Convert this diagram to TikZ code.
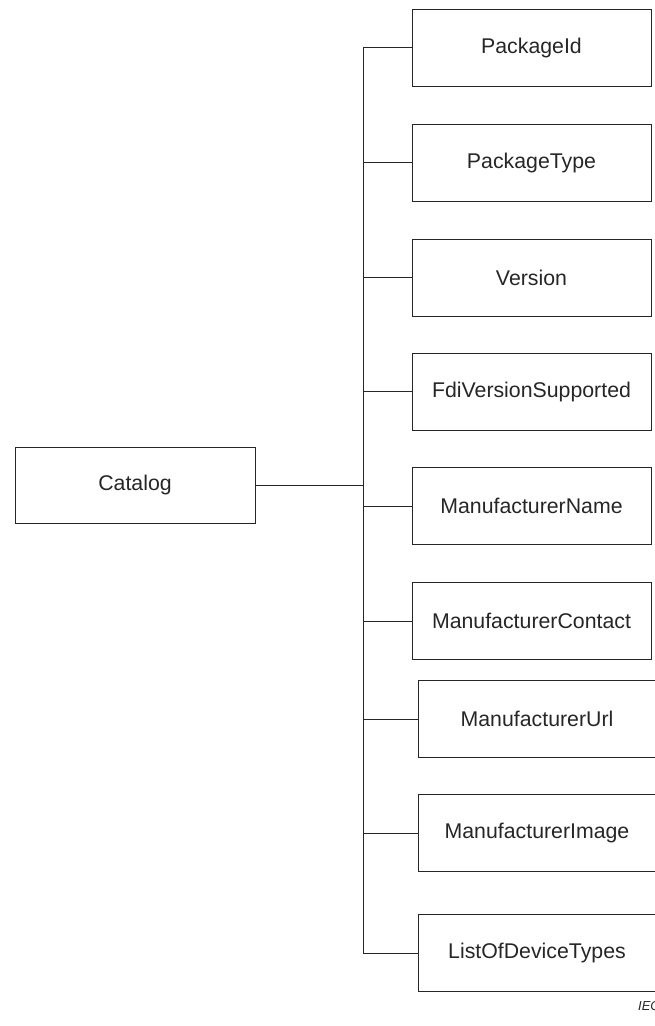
\documentclass[tikz,border=0pt]{standalone}
\usepackage{fontspec}
\setmainfont{Liberation Sans}
\begin{document}
\begin{tikzpicture}[x=1pt,y=-1pt,
  box/.style={draw=black!85, line width=0.8pt, rectangle, inner sep=0pt,
    minimum width=239pt, minimum height=77pt,
    font=\fontsize{21.3}{25}\selectfont, text=black!85},
  link/.style={draw=black!85, line width=0.8pt}]
\useasboundingbox (0,0) rectangle (654,1026);
% root
\node[box, minimum width=240pt, minimum height=76pt] (cat) at (135,485) {Catalog};
% children
\node[box] (pid)  at (531.5,47.5)  {PackageId};
\node[box] (ptyp) at (531.5,162.5) {PackageType};
\node[box] (ver)  at (531.5,277.5) {Version};
\node[box] (fdi)  at (531.5,391.5) {FdiVersionSupported};
\node[box] (mnam) at (531.5,506)   {ManufacturerName};
\node[box] (mcon) at (531.5,621)   {ManufacturerContact};
\node[box, minimum width=238pt] (murl) at (537,719)  {ManufacturerUrl};
\node[box, minimum width=238pt] (mimg) at (537,833)  {ManufacturerImage};
\node[box, minimum width=238pt] (ldt)  at (537,953)  {ListOfDeviceTypes};
% vertical bus
\coordinate (bus) at (363,0);
\draw[link] (pid.west -| bus) -- (ldt.west -| bus);
\draw[link] (cat.east) -- (cat.east -| bus);
\foreach \n in {pid,ptyp,ver,fdi,mnam,mcon,murl,mimg,ldt}
  \draw[link] (\n.west -| bus) -- (\n.west);
% reference tag
\node[anchor=west, inner sep=0pt, font=\itshape\fontsize{13}{15}\selectfont, text=black!85] (tag) at (638,1006) {IEC};
\end{tikzpicture}
\end{document}
